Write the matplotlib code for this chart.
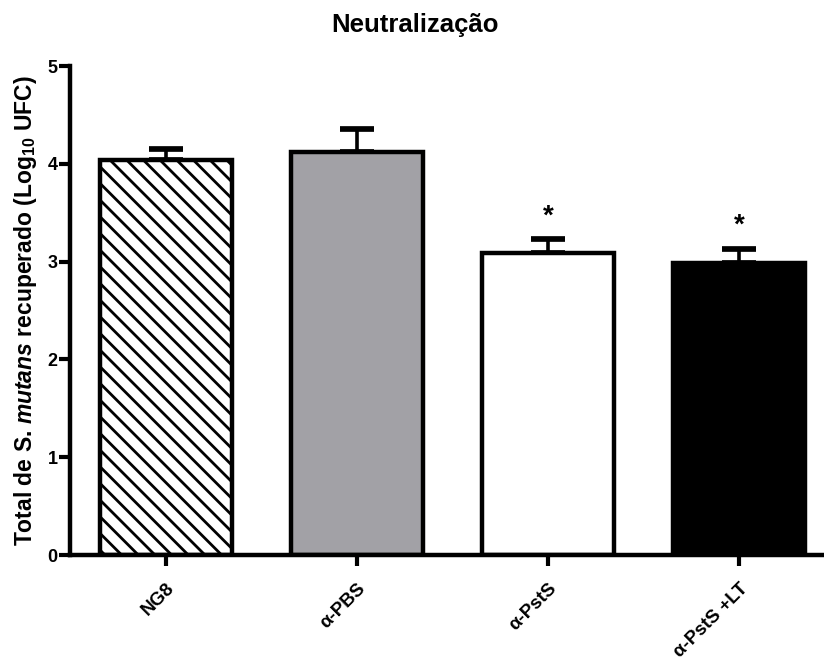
import numpy as np
import matplotlib
matplotlib.use('Agg')
import matplotlib.pyplot as plt

plt.rcParams['font.family'] = 'Liberation Sans'
plt.rcParams['font.weight'] = 'bold'
plt.rcParams['mathtext.fontset'] = 'custom'
plt.rcParams['mathtext.rm'] = 'Liberation Sans:bold'
plt.rcParams['mathtext.it'] = 'Liberation Sans:italic:bold'
plt.rcParams['hatch.linewidth'] = 2.0

groups = ["NG8", "α-PBS", "α-PstS", "α-PstS +LT"]
means = [4.04, 4.12, 3.09, 2.99]
sem = [0.11, 0.24, 0.14, 0.14]
signif = ["", "", "*", "*"]

colors = ["white", "#a2a1a6", "white", "black"]
hatches = ["\\\\", None, None, None]

fig = plt.figure(figsize=(8.24, 6.62), dpi=100)
ax = fig.add_axes([0.085, 0.1616, 0.915, 0.7387])

ind = np.arange(len(groups))
lw = 2.6
for i in ind:
    ax.errorbar(ind[i], means[i], yerr=[[0], [sem[i]]], fmt='none',
                ecolor='black', elinewidth=lw, capsize=12, capthick=lw + 1.5, zorder=1)
    ax.bar(ind[i], means[i], width=0.69, color=colors[i], hatch=hatches[i],
           edgecolor='black', linewidth=lw + 0.6, zorder=2)
    if signif[i]:
        ax.text(ind[i], means[i] + sem[i] + 0.1, signif[i], ha='center', va='bottom',
                fontsize=20, fontweight='bold')

ax.set_xlim(-0.503, 3.445)
ax.set_ylim(0, 5)
ax.set_yticks([0, 1, 2, 3, 4, 5])
ax.set_xticks(ind)
ax.set_xticklabels(groups, rotation=45, ha='right', rotation_mode='anchor',
                   fontweight='bold', fontsize=13.5)
ax.tick_params(axis='y', labelsize=13, width=3, length=8, pad=1)
ax.tick_params(axis='x', width=3, length=8, pad=10)
for lab in ax.get_yticklabels():
    lab.set_fontweight('bold')
for s in ['top', 'right']:
    ax.spines[s].set_visible(False)
for s in ['left', 'bottom']:
    ax.spines[s].set_linewidth(3.2)

ax.set_ylabel(r"Total de S. $mutans$ recuperado (Log$_{10}$ UFC)", fontsize=16.5,
              fontweight='bold', labelpad=6)
fig.text(0.504, 0.962, "Neutralização", ha='center', va='center', fontsize=18.5,
         fontweight='bold')

fig.savefig("out.png", dpi=100)
